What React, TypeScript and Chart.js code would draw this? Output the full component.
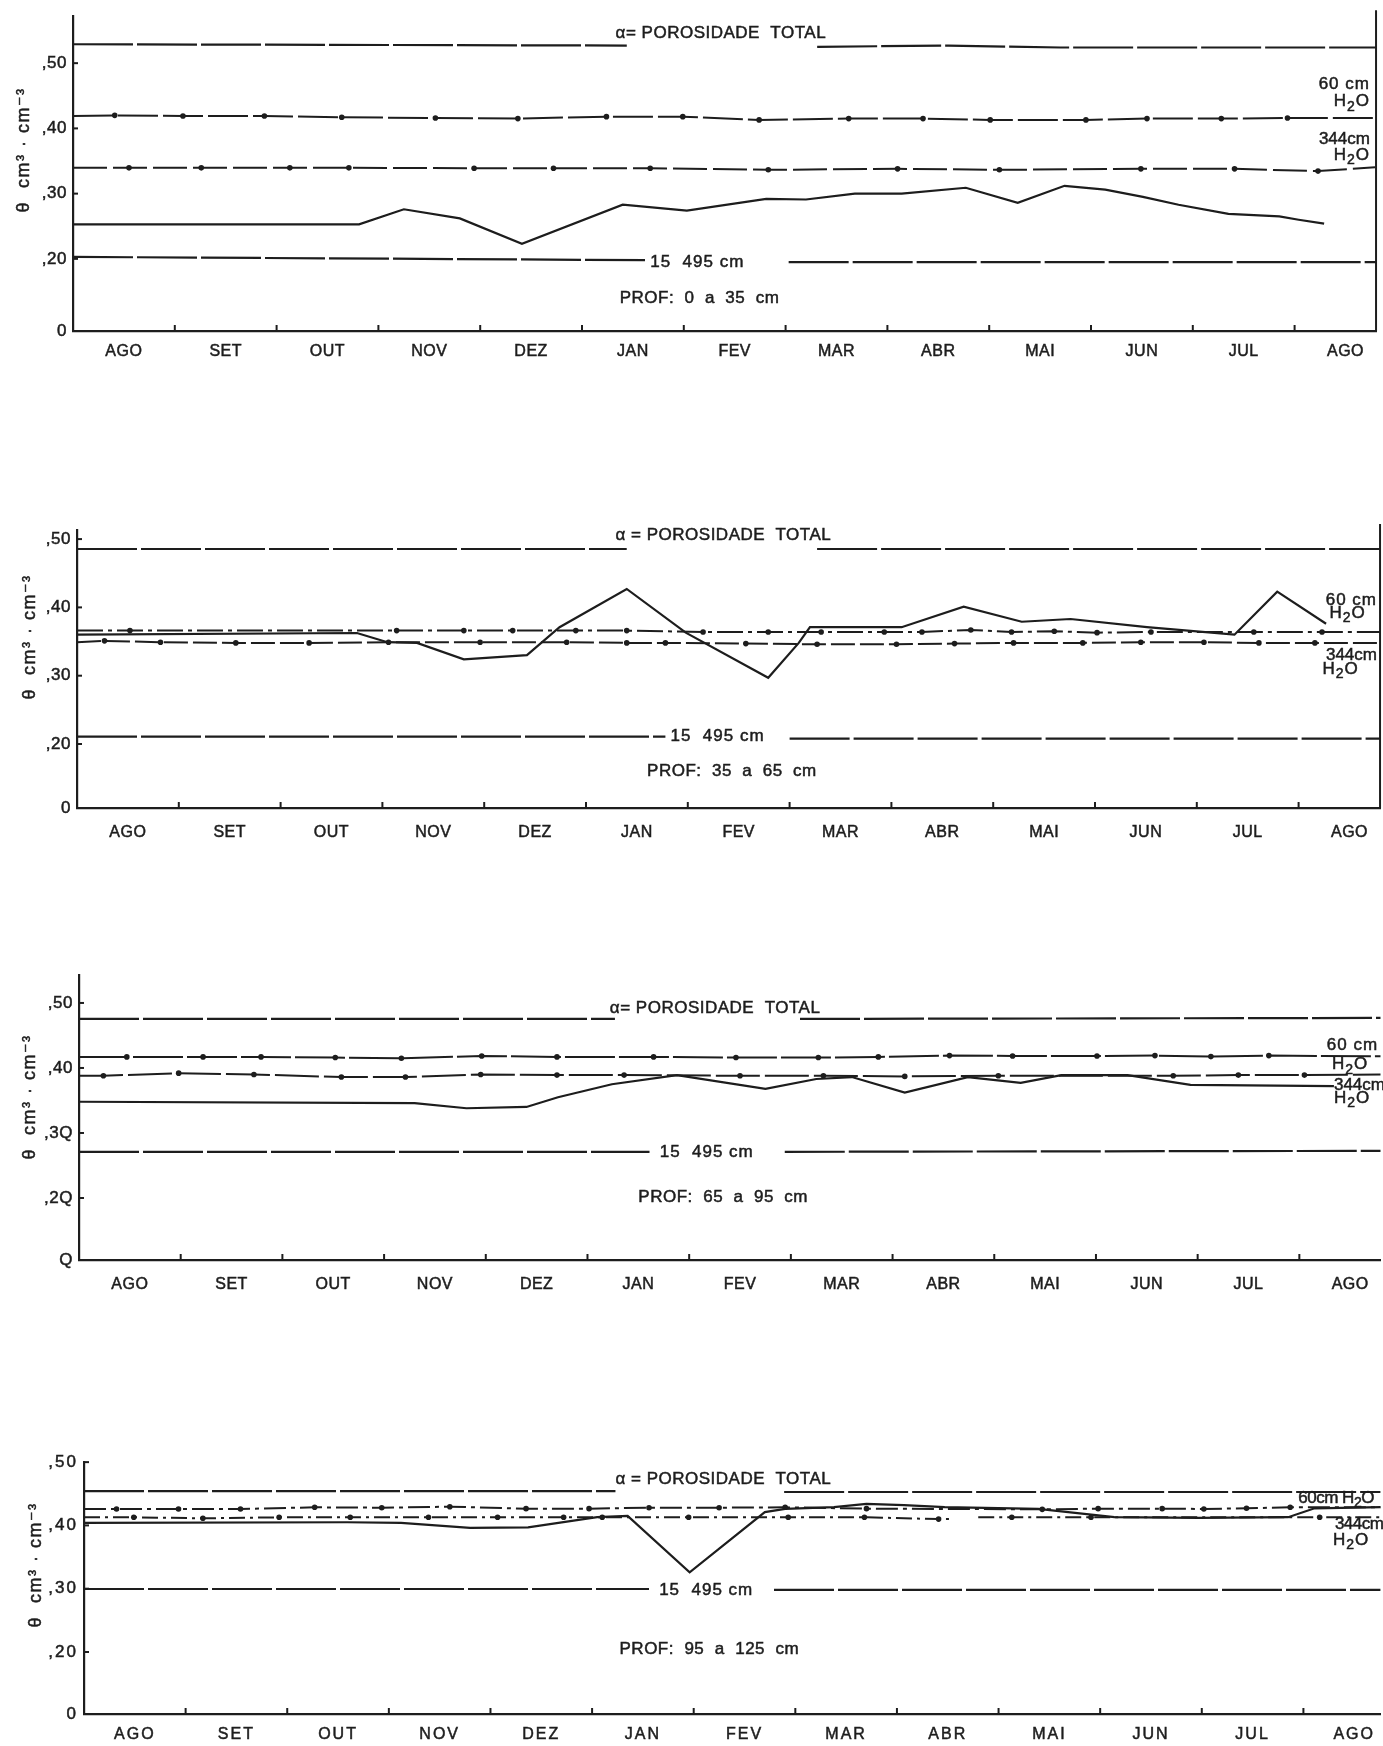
import React, { useEffect, useRef } from "react";
import { Chart, registerables } from "chart.js";

Chart.register(...registerables);

const INK = "#1d1d1d";
const FONT = "'Liberation Sans', Arial, 'DejaVu Sans', sans-serif";
const PAGE_W = 1383;
const MONTH_W = 101.8;

// ---------- shared axis data ----------
const MONTHS = ["AGO", "SET", "OUT", "NOV", "DEZ", "JAN", "FEV", "MAR", "ABR", "MAI", "JUN", "JUL", "AGO"];
const MONTH_CENTERS = [0.5, 1.5, 2.5, 3.5, 4.5, 5.5, 6.5, 7.5, 8.5, 9.5, 10.5, 11.5, 12.5];
const MONTH_BOUNDS = [1, 2, 3, 4, 5, 6, 7, 8, 9, 10, 11, 12];
const Y_TITLE = "θ  cm³ · cm⁻³";
const Y_LABELS = ["0", ",20", ",30", ",40", ",50"];
const Y_LABELS_P3 = ["Q", ",2Q", ",3Q", ",40", ",50"];

// ---------- panel 1 : PROF 0 a 35 cm ----------
const P1_Y_TICKS = [0.0894, 0.2, 0.3, 0.4, 0.5];
const P1_MEAS_X = [0, 2.81, 3.25, 3.8, 4.41, 5.4, 6.03, 6.81, 7.2, 7.68, 8.14, 8.77, 9.28, 9.74, 10.14, 10.51, 10.86, 11.35, 11.85, 12.04, 12.29];
const P1_MEAS_Y = [0.253, 0.253, 0.276, 0.262, 0.223, 0.283, 0.274, 0.292, 0.291, 0.3, 0.3, 0.309, 0.286, 0.312, 0.306, 0.295, 0.283, 0.269, 0.265, 0.26, 0.254];
const P1_60_X = [0, 0.41, 1.08, 1.88, 2.64, 3.56, 4.37, 5.24, 5.99, 6.74, 7.62, 8.35, 9.01, 9.95, 10.55, 11.28, 11.93, 12.8];
const P1_60_Y = [0.419, 0.42, 0.419, 0.419, 0.417, 0.416, 0.415, 0.418, 0.418, 0.413, 0.415, 0.415, 0.413, 0.413, 0.415, 0.415, 0.416, 0.416];
const P1_344_X = [0, 0.55, 1.26, 2.13, 2.71, 3.94, 4.72, 5.67, 6.83, 8.1, 9.1, 10.49, 11.41, 12.23, 12.79];
const P1_344_Y = [0.3395, 0.3395, 0.3395, 0.3395, 0.3395, 0.339, 0.339, 0.339, 0.3365, 0.338, 0.3365, 0.338, 0.338, 0.3345, 0.3405];
const P1_POR_X = [0, 5.44, 6.4, 7.31, 8.6, 9.7, 12.8];
const P1_POR_Y = [0.529, 0.527, null, 0.525, 0.527, 0.524, 0.524];
const P1_15495_X = [0, 5.62, 6.3, 7.03, 12.8];
const P1_15495_Y = [0.203, 0.198, null, 0.195, 0.195];

// ---------- panel 2 : PROF 35 a 65 cm ----------
const P2_Y_TICKS = [0.1063, 0.2, 0.3, 0.4, 0.5];
const P2_MEAS_X = [0, 2.75, 3.05, 3.34, 3.8, 4.42, 4.74, 5.4, 5.98, 6.79, 7.09, 7.2, 8.1, 8.71, 9.28, 9.76, 10.51, 11.37, 11.79, 12.27];
const P2_MEAS_Y = [0.36, 0.3625, 0.349, 0.348, 0.324, 0.33, 0.371, 0.427, 0.363, 0.297, 0.348, 0.371, 0.371, 0.401, 0.379, 0.383, 0.371, 0.36, 0.423, 0.376];
const P2_60_X = [0, 0.52, 3.14, 3.8, 4.28, 4.9, 5.4, 6.15, 6.79, 7.31, 7.93, 8.3, 8.78, 9.18, 9.6, 10.02, 10.55, 11.56, 12.23, 12.8];
const P2_60_Y = [0.366, 0.366, 0.366, 0.366, 0.366, 0.366, 0.366, 0.364, 0.364, 0.364, 0.364, 0.364, 0.367, 0.364, 0.365, 0.363, 0.364, 0.364, 0.364, 0.364];
const P2_344_X = [0, 0.27, 0.82, 1.56, 2.28, 3.06, 3.96, 4.81, 5.4, 5.78, 6.57, 7.27, 8.05, 8.62, 9.2, 9.88, 10.45, 11.07, 11.61, 12.16, 12.8];
const P2_344_Y = [0.349, 0.351, 0.349, 0.348, 0.348, 0.349, 0.349, 0.349, 0.348, 0.348, 0.347, 0.346, 0.346, 0.347, 0.348, 0.348, 0.349, 0.349, 0.348, 0.348, 0.348];
const P2_POR_X = [0, 5.4, 6.3, 7.27, 12.8];
const P2_POR_Y = [0.4855, 0.4855, null, 0.4855, 0.4855];
const P2_15495_X = [0, 5.78, 6.4, 7.0, 12.8];
const P2_15495_Y = [0.2107, 0.2107, null, 0.208, 0.2078];

// ---------- panel 3 : PROF 65 a 95 cm ----------
const P3_Y_TICKS = [0.1046, 0.2, 0.3, 0.4, 0.5];
const P3_MEAS_X = [0, 3.3, 3.81, 4.4, 4.71, 5.24, 5.88, 6.75, 7.25, 7.6, 8.12, 8.74, 9.26, 9.66, 10.31, 10.93, 12.34];
const P3_MEAS_Y = [0.348, 0.346, 0.338, 0.34, 0.355, 0.375, 0.389, 0.368, 0.383, 0.386, 0.362, 0.386, 0.377, 0.389, 0.389, 0.374, 0.372];
const P3_60_X = [0, 0.47, 1.22, 1.79, 2.52, 3.17, 3.96, 4.7, 5.65, 6.46, 7.27, 7.86, 8.56, 9.18, 10.01, 10.58, 11.13, 11.7, 12.8];
const P3_60_Y = [0.417, 0.417, 0.417, 0.417, 0.416, 0.415, 0.4185, 0.417, 0.417, 0.416, 0.416, 0.417, 0.419, 0.4185, 0.4185, 0.419, 0.4175, 0.419, 0.418];
const P3_344_X = [0, 0.24, 0.98, 1.72, 2.58, 3.21, 3.95, 4.7, 5.36, 6.5, 7.32, 8.12, 9.04, 10.76, 11.4, 12.05, 12.8];
const P3_344_Y = [0.388, 0.388, 0.392, 0.39, 0.386, 0.386, 0.39, 0.389, 0.389, 0.388, 0.388, 0.387, 0.388, 0.388, 0.389, 0.389, 0.39];
const P3_POR_X = [0, 5.27, 6.2, 7.09, 12.8];
const P3_POR_Y = [0.4754, 0.4754, null, 0.4754, 0.477];
const P3_15495_X = [0, 5.61, 6.3, 6.94, 12.8];
const P3_15495_Y = [0.2708, 0.2708, null, 0.271, 0.2725];

// ---------- panel 4 : PROF 95 a 125 cm ----------
const P4_Y_TICKS = [0.102, 0.2, 0.3, 0.4, 0.5];
const P4_MEAS_X = [0, 2.59, 3.12, 3.8, 4.37, 5.05, 5.35, 5.96, 6.7, 6.9, 7.38, 7.7, 8.07, 8.47, 9.39, 10.14, 10.97, 11.85, 12.11, 12.76];
const P4_MEAS_Y = [0.404, 0.405, 0.404, 0.396, 0.397, 0.413, 0.415, 0.326, 0.421, 0.426, 0.429, 0.434, 0.432, 0.429, 0.426, 0.413, 0.412, 0.413, 0.427, 0.429];
const P4_60_X = [0, 0.32, 0.93, 1.54, 2.27, 2.93, 3.6, 4.35, 4.97, 5.56, 6.25, 6.9, 7.7, 9.43, 9.98, 10.61, 11.02, 11.44, 11.87, 12.76];
const P4_60_Y = [0.426, 0.426, 0.426, 0.426, 0.4286, 0.428, 0.4296, 0.4265, 0.4265, 0.428, 0.428, 0.4286, 0.4265, 0.4254, 0.4265, 0.4265, 0.426, 0.427, 0.4286, 0.4286];
const P4_344_X = [0, 0.49, 1.17, 1.92, 2.62, 3.39, 4.07, 4.72, 5.1, 5.95, 6.93, 7.68, 8.41, 8.52, 8.66, 8.8, 9.13, 9.91, 12.16, 12.76];
const P4_344_Y = [0.4128, 0.4128, 0.4112, 0.4128, 0.4128, 0.4128, 0.4128, 0.4128, 0.4128, 0.4128, 0.4128, 0.4128, 0.41, 0.41, null, 0.4128, 0.4128, 0.4128, 0.4128, 0.4128];
const P4_POR_X = [0, 5.23, 6.0, 6.89, 12.76];
const P4_POR_Y = [0.4543, 0.4543, null, 0.4528, 0.4528];
const P4_15495_X = [0, 5.56, 6.2, 6.79, 12.76];
const P4_15495_Y = [0.2995, 0.2995, null, 0.298, 0.298];

// ---------- types & layout ----------
type Series = { xs: number[]; ys: (number | null)[]; dash: number[]; width: number; markers: boolean };
type Note = { text: string; x: number; y: number; align: "left" | "right"; spacing?: number };
type Panel = {
  top: number; height: number; left: number; xMax: number;
  chartTop: number; chartBottom: number; yMin: number; yMax: number;
  yTicks: number[]; yLabels: string[]; labelPad: number; labelSpacing: number;
  rightBorder: boolean; series: Series[]; notes: Note[]; title: { x: number; y: number };
};

const LONG_DASH = [60, 4];

function refLines(porX: number[], porY: (number | null)[], fX: number[], fY: (number | null)[],
  aX: number[], aY: (number | null)[], aDash: number[], bX: number[], bY: (number | null)[], bDash: number[],
  mX: number[], mY: number[]): Series[] {
  return [
    { xs: porX, ys: porY, dash: LONG_DASH, width: 2.2, markers: false },
    { xs: fX, ys: fY, dash: LONG_DASH, width: 2.2, markers: false },
    { xs: aX, ys: aY, dash: aDash, width: 2, markers: true },
    { xs: bX, ys: bY, dash: bDash, width: 2, markers: true },
    { xs: mX, ys: mY, dash: [], width: 2.2, markers: false },
  ];
}

const PANELS: Panel[] = [
  {
    top: 0, height: 380, left: 73, xMax: 12.8, chartTop: 12, chartBottom: 331,
    yMin: 0.0894, yMax: 0.572, yTicks: P1_Y_TICKS, yLabels: Y_LABELS, labelPad: 11, labelSpacing: 0.5,
    rightBorder: true,
    series: refLines(P1_POR_X, P1_POR_Y, P1_15495_X, P1_15495_Y, P1_60_X, P1_60_Y, [40, 5], P1_344_X, P1_344_Y, [34, 6], P1_MEAS_X, P1_MEAS_Y),
    notes: [
      { text: "α= POROSIDADE  TOTAL", x: 5.33, y: 0.545, align: "left", spacing: 0.5 },
      { text: "15  495 cm", x: 5.67, y: 0.195, align: "left", spacing: 1 },
      { text: "PROF:  0  a  35  cm", x: 5.37, y: 0.139, align: "left", spacing: 0.5 },
      { text: "60 cm", x: 12.74, y: 0.4676, align: "right" },
      { text: "H₂O", x: 12.74, y: 0.441, align: "right" },
      { text: "344cm", x: 12.74, y: 0.383, align: "right", spacing: 0 },
      { text: "H₂O", x: 12.74, y: 0.359, align: "right" },
    ],
    title: { x: 24, y: 150 },
  },
  {
    top: 470, height: 390, left: 77, xMax: 12.8, chartTop: 530, chartBottom: 808,
    yMin: 0.1063, yMax: 0.5133, yTicks: P2_Y_TICKS, yLabels: Y_LABELS, labelPad: 15, labelSpacing: 0.5,
    rightBorder: true,
    series: refLines(P2_POR_X, P2_POR_Y, P2_15495_X, P2_15495_Y, P2_60_X, P2_60_Y, [26, 5, 4, 5], P2_344_X, P2_344_Y, [24, 5], P2_MEAS_X, P2_MEAS_Y),
    notes: [
      { text: "α = POROSIDADE  TOTAL", x: 5.29, y: 0.506, align: "left", spacing: 0.5 },
      { text: "15  495 cm", x: 5.83, y: 0.2117, align: "left", spacing: 1 },
      { text: "PROF:  35  a  65  cm", x: 5.6, y: 0.1605, align: "left", spacing: 0.5 },
      { text: "60 cm", x: 12.77, y: 0.411, align: "right" },
      { text: "H₂O", x: 12.66, y: 0.391, align: "right" },
      { text: "344cm", x: 12.77, y: 0.33, align: "right", spacing: 0 },
      { text: "H₂O", x: 12.59, y: 0.309, align: "right" },
    ],
    title: { x: 30, y: 637 },
  },
  {
    top: 940, height: 370, left: 79, xMax: 12.8, chartTop: 975, chartBottom: 1260,
    yMin: 0.1046, yMax: 0.543, yTicks: P3_Y_TICKS, yLabels: Y_LABELS_P3, labelPad: 15, labelSpacing: 0.5,
    rightBorder: false,
    series: refLines(P3_POR_X, P3_POR_Y, P3_15495_X, P3_15495_Y, P3_60_X, P3_60_Y, [50, 4], P3_344_X, P3_344_Y, [44, 5], P3_MEAS_X, P3_MEAS_Y),
    notes: [
      { text: "α= POROSIDADE  TOTAL", x: 5.22, y: 0.492, align: "left", spacing: 0.5 },
      { text: "15  495 cm", x: 5.71, y: 0.271, align: "left", spacing: 1 },
      { text: "PROF:  65  a  95  cm", x: 5.5, y: 0.2015, align: "left", spacing: 0.5 },
      { text: "60 cm", x: 12.27, y: 0.435, align: "left" },
      { text: "H₂O", x: 12.32, y: 0.405, align: "left" },
      { text: "344cm", x: 12.34, y: 0.374, align: "left", spacing: 0 },
      { text: "H₂O", x: 12.34, y: 0.353, align: "left" },
    ],
    title: { x: 30, y: 1097 },
  },
  {
    top: 1420, height: 326, left: 84, xMax: 12.76, chartTop: 1462, chartBottom: 1714,
    yMin: 0.102, yMax: 0.5002, yTicks: P4_Y_TICKS, yLabels: Y_LABELS, labelPad: 11, labelSpacing: 2,
    rightBorder: false,
    series: refLines(P4_POR_X, P4_POR_Y, P4_15495_X, P4_15495_Y, P4_60_X, P4_60_Y, [22, 5, 4, 5], P4_344_X, P4_344_Y, [16, 5, 3, 5], P4_MEAS_X, P4_MEAS_Y),
    notes: [
      { text: "α = POROSIDADE  TOTAL", x: 5.23, y: 0.4733, align: "left", spacing: 0.5 },
      { text: "15  495 cm", x: 5.66, y: 0.298, align: "left", spacing: 1 },
      { text: "PROF:  95  a  125  cm", x: 5.27, y: 0.2047, align: "left", spacing: 0.5 },
      { text: "60cm H₂O", x: 11.95, y: 0.4433, align: "left", spacing: -0.5 },
      { text: "344cm", x: 12.31, y: 0.402, align: "left", spacing: -0.5 },
      { text: "H₂O", x: 12.29, y: 0.376, align: "left" },
    ],
    title: { x: 36, y: 1565 },
  },
];

function markerRadius(s: Series, i: number): number {
  if (!s.markers) return 0;
  const n = s.ys.length;
  if (i === 0 || i === n - 1) return 0;
  if (s.ys[i - 1] === null || s.ys[i + 1] === null || s.ys[i] === null) return 0;
  return 2.8;
}

const NOTE_SIZE = 17;

// draws text where "₂" is rendered as a real subscript "2"
function drawRich(ctx: CanvasRenderingContext2D, text: string, x: number, y: number, align: "left" | "right") {
  const parts = text.split("₂");
  const big = `${NOTE_SIZE}px ${FONT}`;
  const small = `${Math.round(NOTE_SIZE * 0.8)}px ${FONT}`;
  const pieces: { t: string; sub: boolean }[] = [];
  parts.forEach((p, i) => {
    if (p) pieces.push({ t: p, sub: false });
    if (i < parts.length - 1) pieces.push({ t: "2", sub: true });
  });
  let total = 0;
  pieces.forEach((pc) => {
    ctx.font = pc.sub ? small : big;
    total += ctx.measureText(pc.t).width;
  });
  let cx = align === "right" ? x - total : x;
  ctx.textAlign = "left";
  pieces.forEach((pc) => {
    ctx.font = pc.sub ? small : big;
    const dy = pc.sub ? 5 : 0;
    ctx.strokeText(pc.t, cx, y + dy);
    ctx.fillText(pc.t, cx, y + dy);
    cx += ctx.measureText(pc.t).width;
  });
}

function makePlugin(p: Panel) {
  return {
    id: "decor",
    beforeDraw(chart: any) {
      (chart.ctx as any).letterSpacing = `${p.labelSpacing}px`;
    },
    afterDraw(chart: any) {
      const { ctx, chartArea, scales } = chart;
      const xs = scales.x;
      const ys = scales.y;
      ctx.save();
      ctx.strokeStyle = INK;
      ctx.fillStyle = INK;
      ctx.lineWidth = 2;
      ctx.setLineDash([]);
      // inward tick stubs on the y axis
      p.yTicks.forEach((v) => {
        const y = ys.getPixelForValue(v);
        ctx.beginPath();
        ctx.moveTo(chartArea.left, y);
        ctx.lineTo(chartArea.left + 5, y);
        ctx.stroke();
      });
      // month boundary stubs on the x axis
      MONTH_BOUNDS.forEach((m) => {
        if (m >= p.xMax) return;
        const x = xs.getPixelForValue(m);
        ctx.beginPath();
        ctx.moveTo(x, chartArea.bottom);
        ctx.lineTo(x, chartArea.bottom - 6);
        ctx.stroke();
      });
      if (p.rightBorder) {
        ctx.beginPath();
        ctx.moveTo(chartArea.right, chartArea.top - 6);
        ctx.lineTo(chartArea.right, chartArea.bottom);
        ctx.stroke();
      }
      // notes
      ctx.textBaseline = "middle";
      ctx.lineWidth = 0.5;
      p.notes.forEach((n) => {
        (ctx as any).letterSpacing = `${n.spacing ?? 1}px`;
        drawRich(ctx, n.text, xs.getPixelForValue(n.x), ys.getPixelForValue(n.y), n.align);
      });
      // y-axis title
      ctx.translate(p.title.x, p.title.y - p.top);
      ctx.rotate(-Math.PI / 2);
      ctx.font = `18px ${FONT}`;
      ctx.textAlign = "center";
      (ctx as any).letterSpacing = "1.5px";
      ctx.strokeText(Y_TITLE, 0, 0);
      ctx.fillText(Y_TITLE, 0, 0);
      ctx.restore();
    },
  };
}

function buildConfig(p: Panel): any {
  const right = p.left + p.xMax * MONTH_W;
  const tickFont = { family: FONT, size: 16 };
  return {
    type: "line",
    data: {
      datasets: p.series.map((s) => ({
        data: s.xs.map((x, i) => ({ x, y: s.ys[i] })),
        borderColor: INK,
        backgroundColor: INK,
        borderWidth: s.width,
        borderDash: s.dash,
        pointRadius: (c: any) => markerRadius(s, c.dataIndex),
        pointHoverRadius: 0,
        pointBorderWidth: 0,
        pointBackgroundColor: INK,
        tension: 0,
        spanGaps: false,
        fill: false,
      })),
    },
    options: {
      responsive: false,
      maintainAspectRatio: false,
      animation: false,
      events: [],
      layout: {
        padding: { left: 0, top: p.chartTop - p.top, right: PAGE_W - right, bottom: 0 },
      },
      plugins: { legend: { display: false }, tooltip: { enabled: false }, title: { display: false } },
      scales: {
        x: {
          type: "linear",
          min: 0,
          max: p.xMax,
          grid: { display: false, drawTicks: false },
          border: { display: true, color: INK, width: 2.2 },
          ticks: {
            autoSkip: false,
            maxRotation: 0,
            padding: p.labelPad,
            color: INK,
            font: tickFont,
            textStrokeColor: INK,
            textStrokeWidth: 0.5,
            callback: (_v: any, i: number) => MONTHS[i],
          },
          afterBuildTicks: (s: any) => {
            s.ticks = MONTH_CENTERS.map((v) => ({ value: v }));
          },
          afterFit: (s: any) => {
            s.height = p.top + p.height - p.chartBottom;
          },
        },
        y: {
          type: "linear",
          min: p.yMin,
          max: p.yMax,
          grid: { display: false, drawTicks: false },
          border: { display: true, color: INK, width: 2.2 },
          ticks: {
            autoSkip: false,
            padding: 6,
            color: INK,
            font: { family: FONT, size: 17 },
            textStrokeColor: INK,
            textStrokeWidth: 0.5,
            callback: (_v: any, i: number) => p.yLabels[i],
          },
          afterBuildTicks: (s: any) => {
            s.ticks = p.yTicks.map((v) => ({ value: v }));
          },
          afterFit: (s: any) => {
            s.width = p.left;
          },
        },
      },
    },
    plugins: [makePlugin(p)],
  };
}

function PanelChart({ p }: { p: Panel }) {
  const ref = useRef<HTMLCanvasElement>(null);
  useEffect(() => {
    if (!ref.current) return;
    const chart = new Chart(ref.current, buildConfig(p));
    return () => chart.destroy();
  }, [p]);
  return (
    <canvas
      ref={ref}
      width={PAGE_W}
      height={p.height}
      style={{ position: "absolute", left: 0, top: p.top, width: PAGE_W, height: p.height, display: "block" }}
    />
  );
}

export default function App() {
  return (
    <div style={{ position: "absolute", left: 0, top: 0, width: PAGE_W, height: 1746, background: "#ffffff", overflow: "hidden" }}>
      {PANELS.map((p, i) => (
        <PanelChart key={i} p={p} />
      ))}
    </div>
  );
}
